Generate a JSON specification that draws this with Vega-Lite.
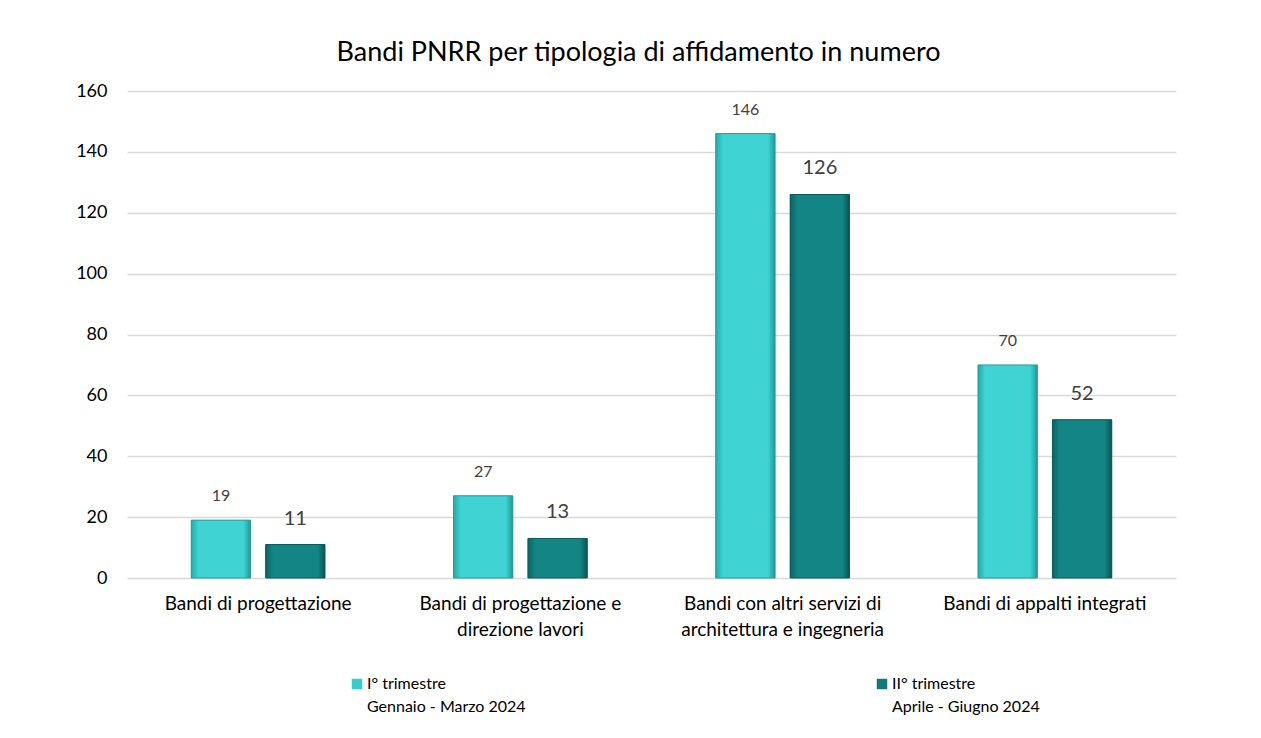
{
  "$schema": "https://vega.github.io/schema/vega-lite/v6.json",
  "width": 1049,
  "height": 487,
  "autosize": {"type": "none"},
  "padding": {"left": 127, "top": 91, "right": 85, "bottom": 160},
  "background": "white",
  "title": {
    "text": "Bandi PNRR per tipologia di affidamento in numero",
    "anchor": "middle",
    "frame": "group",
    "offset": 15,
    "dx": -13,
    "fontSize": 27,
    "fontWeight": "normal",
    "font": "Lato",
    "color": "#000000"
  },
  "data": {
    "values": [
      {"cat": "Bandi di progettazione", "s": "I", "value": 19},
      {"cat": "Bandi di progettazione", "s": "II", "value": 11},
      {"cat": "Bandi di progettazione e|direzione lavori", "s": "I", "value": 27},
      {"cat": "Bandi di progettazione e|direzione lavori", "s": "II", "value": 13},
      {"cat": "Bandi con altri servizi di|architettura e ingegneria", "s": "I", "value": 146},
      {"cat": "Bandi con altri servizi di|architettura e ingegneria", "s": "II", "value": 126},
      {"cat": "Bandi di appalti integrati", "s": "I", "value": 70},
      {"cat": "Bandi di appalti integrati", "s": "II", "value": 52}
    ]
  },
  "encoding": {
    "x": {
      "field": "cat",
      "type": "nominal",
      "sort": null,
      "scale": {"paddingInner": 0.49, "paddingOuter": 0.245},
      "axis": {
        "title": null,
        "labelExpr": "split(datum.label, '|')",
        "labelAngle": 0,
        "labelFontSize": 19,
        "labelFont": "Lato",
        "labelColor": "#000000",
        "labelPadding": 16,
        "labelLineHeight": 26,
        "labelLimit": 400,
        "ticks": false,
        "domain": false,
        "grid": false
      }
    },
    "xOffset": {
      "field": "s",
      "type": "nominal",
      "scale": {"domain": ["I", "II"], "paddingInner": 0.203, "paddingOuter": 0}
    },
    "y": {
      "field": "value",
      "type": "quantitative",
      "scale": {"domain": [0, 160], "nice": false},
      "axis": {
        "title": null,
        "values": [0, 20, 40, 60, 80, 100, 120, 140, 160],
        "labelFontSize": 18,
        "labelFont": "Lato",
        "labelColor": "#000000",
        "labelPadding": 20,
        "ticks": false,
        "domain": false,
        "gridColor": "#d9d9d9",
        "gridWidth": 1.3
      }
    }
  },
  "layer": [
    {
      "mark": {"type": "bar"},
      "encoding": {
        "color": {
          "field": "s",
          "type": "nominal",
          "scale": {"domain": ["I", "II"], "range": ["#38cccc", "#0f7a78"]},
          "legend": {
            "orient": "none",
            "legendX": 222,
            "legendY": 585,
            "direction": "horizontal",
            "columns": 2,
            "columnPadding": 344,
            "title": null,
            "symbolType": "square",
            "symbolSize": 110,
            "symbolStrokeWidth": 0,
            "labelFont": "Lato",
            "labelFontSize": 16,
            "labelColor": "#000000",
            "labelOffset": 2,
            "labelBaseline": "middle",
            "labelLimit": 400,
            "labelExpr": "datum.value == 'I' ? ['I° trimestre', 'Gennaio  - Marzo 2024'] : ['II° trimestre', 'Aprile  - Giugno 2024']"
          }
        }
      }
    },
    {
      "transform": [{"filter": "datum.s == 'I'"}],
      "mark": {
        "type": "bar",
        "stroke": "#2a9a9a",
        "strokeWidth": 1,
        "fill": {
          "gradient": "linear",
          "x1": 0, "y1": 0, "x2": 1, "y2": 0,
          "stops": [
            {"offset": 0, "color": "#25a9a9"},
            {"offset": 0.12, "color": "#3fd3d3"},
            {"offset": 0.88, "color": "#3fd3d3"},
            {"offset": 1, "color": "#1f9898"}
          ]
        }
      }
    },
    {
      "transform": [{"filter": "datum.s == 'II'"}],
      "mark": {
        "type": "bar",
        "stroke": "#0a5a58",
        "strokeWidth": 1,
        "fill": {
          "gradient": "linear",
          "x1": 0, "y1": 0, "x2": 1, "y2": 0,
          "stops": [
            {"offset": 0, "color": "#0b6463"},
            {"offset": 0.12, "color": "#128584"},
            {"offset": 0.88, "color": "#128584"},
            {"offset": 1, "color": "#0a5553"}
          ]
        }
      }
    },
    {
      "transform": [{"filter": "datum.s == 'I'"}],
      "mark": {"type": "text", "baseline": "middle", "dy": -24, "fontSize": 16, "font": "Lato", "color": "#404040"},
      "encoding": {"text": {"field": "value", "type": "quantitative"}}
    },
    {
      "transform": [{"filter": "datum.s == 'II'"}],
      "mark": {"type": "text", "baseline": "middle", "dy": -26, "fontSize": 20, "font": "Lato", "color": "#404040"},
      "encoding": {"text": {"field": "value", "type": "quantitative"}}
    }
  ],
  "config": {
    "view": {"stroke": null},
    "style": {"guide-label": {"lineHeight": 23}}
  }
}
